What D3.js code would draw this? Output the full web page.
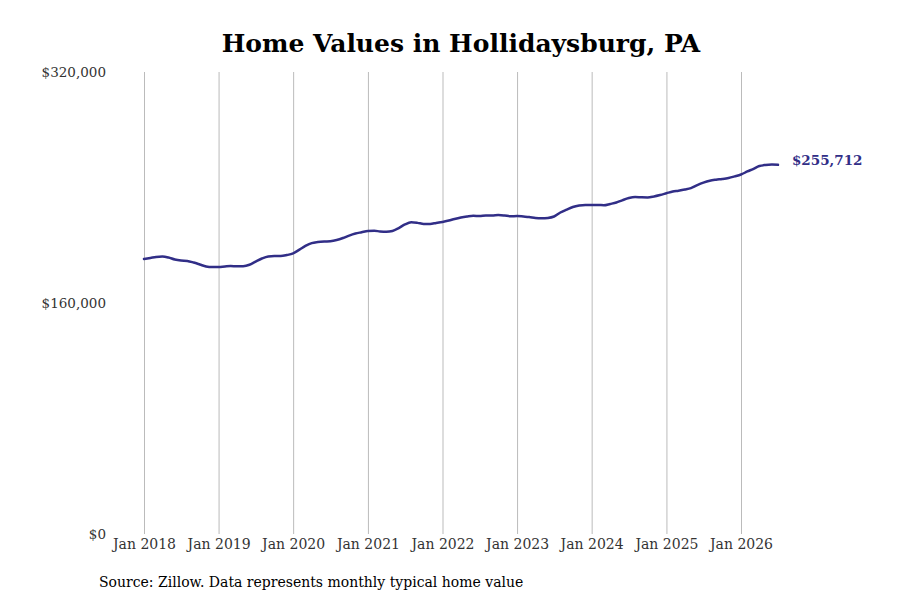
<!DOCTYPE html>
<html lang="en">
	<head>
		<meta charset="utf-8">
		<title>Home Values in Hollidaysburg, PA</title>
		<script type="text/javascript" src="https://cdnjs.cloudflare.com/ajax/libs/d3/7.8.5/d3.min.js"></script>
		<style type="text/css">
			body { margin: 0; background: #fff; }
			svg { display: block; font-family: "DejaVu Serif", serif; }
			.axis path { display: none; }
			.axis text { fill: #333; font-family: "DejaVu Serif", serif; }
			.xaxis text { font-size: 14px; }
			.yaxis text { font-size: 13.5px; }
			.xaxis line { stroke: #bbb; }
		</style>
	</head>
	<body>
		<script type="text/javascript">

			//Width and height
			var w = 900;
			var h = 600;

			//Monthly typical home value, Jan 2018 onward
			var startMonth = "2018-01";
			var homeValues = [
				190500, 191200, 191900, 192200, 191500, 190100, 189400, 189100, 188000, 186700, 185300, 184900,
				184900, 185300, 185600, 185400, 185500, 186500, 188700, 190800, 192200, 192500, 192500, 193200,
				194400, 197000, 199500, 201500, 202200, 202600, 202800, 203600, 205000, 206700, 208100, 209000,
				209900, 210000, 209600, 209400, 209900, 211900, 214400, 215900, 215500, 214800, 214800, 215400,
				216100, 217100, 218200, 219200, 219900, 220400, 220200, 220600, 220600, 220900, 220600, 220100,
				220200, 219900, 219600, 218900, 218700, 218900, 219900, 222700, 224700, 226500, 227500, 227900,
				227900, 227900, 227700, 228600, 229600, 231300, 232700, 233400, 233200, 233100, 233800, 234800,
				236000, 237200, 237800, 238600, 239600, 241700, 243400, 244700, 245400, 245900, 246600, 247700,
				249000, 251100, 252800, 254900, 255600, 255900, 255712
			];

			//Axis ticks
			var yTicks = [0, 160000, 320000];
			var xTickYears = [2018, 2019, 2020, 2021, 2022, 2023, 2024, 2025, 2026];

			var parseMonth = d3.timeParse("%Y-%m");
			var start = parseMonth(startMonth);
			var dataset = homeValues.map((v, i) => ({ date: d3.timeMonth.offset(start, i), value: v }));

			//Scales
			var xScale = d3.scaleTime()
				.domain([new Date(2018, 0, 1), new Date(2026, 0, 1)])
				.range([144, 741]);

			var yScale = d3.scaleLinear()
				.domain([0, 320000])
				.range([534, 72]);

			var svg = d3.select("body")
				.append("svg")
				.attr("width", w)
				.attr("height", h);

			//Title
			svg.append("text")
				.attr("x", 461)
				.attr("y", 52)
				.attr("text-anchor", "middle")
				.attr("font-weight", "bold")
				.attr("font-size", "25px")
				.attr("fill", "#000")
				.text("Home Values in Hollidaysburg, PA");

			//X axis with gridlines
			var xAxis = d3.axisBottom(xScale)
				.tickValues(xTickYears.map(y => new Date(y, 0, 1)))
				.tickSize(462)
				.tickPadding(5)
				.tickFormat(d3.timeFormat("Jan %Y"));

			svg.append("g")
				.attr("class", "axis xaxis")
				.attr("transform", "translate(0,72)")
				.call(xAxis);

			//Y axis labels only
			var yAxis = d3.axisLeft(yScale)
				.tickValues(yTicks)
				.tickSize(0)
				.tickPadding(0)
				.tickFormat(d => "$" + d3.format(",")(d));

			svg.append("g")
				.attr("class", "axis yaxis")
				.attr("transform", "translate(106,0)")
				.call(yAxis)
				.selectAll("line").remove();

			//Line
			var line = d3.line()
				.x(d => xScale(d.date))
				.y(d => yScale(d.value))
				.curve(d3.curveMonotoneX);

			svg.append("path")
				.datum(dataset)
				.attr("fill", "none")
				.attr("stroke", "#312e87")
				.attr("stroke-width", 2.5)
				.attr("stroke-linejoin", "round")
				.attr("stroke-linecap", "round")
				.attr("d", line);

			//End label
			var last = dataset[dataset.length - 1];
			svg.append("text")
				.attr("x", xScale(last.date) + 14)
				.attr("y", yScale(last.value) - 5)
				.attr("dy", "0.35em")
				.attr("font-weight", "bold")
				.attr("font-size", "13.5px")
				.attr("fill", "#312e87")
				.text("$" + d3.format(",")(last.value));

			//Source
			svg.append("text")
				.attr("x", 99)
				.attr("y", 587)
				.attr("font-size", "14px")
				.attr("fill", "#000")
				.text("Source: Zillow. Data represents monthly typical home value");

		</script>
	</body>
</html>
